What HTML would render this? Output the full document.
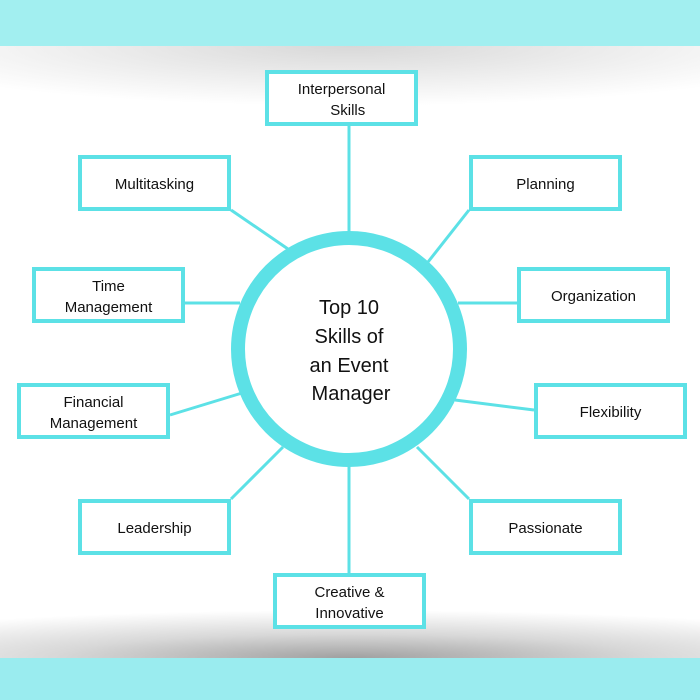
<!DOCTYPE html>
<html><head><style>
body{margin:0;width:700px;height:700px;overflow:hidden;background:#fff;position:relative;font-family:"Liberation Sans",sans-serif}
.band{position:absolute;left:0;width:700px}
.b{position:absolute;box-sizing:border-box;border:4px solid #5ce1e6;background:#fff;width:153px;height:56px;display:flex;align-items:center;justify-content:center;text-align:center;font-size:15px;line-height:21px;color:#111;padding-top:3px}
</style></head><body>
<div class="band" style="top:46px;height:60px;background:radial-gradient(ellipse 70% 100% at 50% 0%,#d8d8d8 0%,rgba(255,255,255,0) 100%);"></div>
<div class="band" style="top:610px;height:48px;background:radial-gradient(ellipse 85% 100% at 50% 100%,#a0a0a0 0%,rgba(190,190,190,0.6) 50%,rgba(255,255,255,0) 100%);"></div>
<div class="band" style="top:0;height:46px;background:#a2eff0"></div>
<div class="band" style="top:658px;height:42px;background:#9aecef"></div>
<svg style="position:absolute;left:0;top:0" width="700" height="700">
<g stroke="#5ce1e6" stroke-width="3">
<line x1="349" y1="126" x2="349" y2="235"/>
<line x1="349" y1="465" x2="349" y2="573"/>
<line x1="231" y1="210" x2="288" y2="249"/>
<line x1="469" y1="210" x2="428" y2="262"/>
<line x1="185" y1="303" x2="240" y2="303"/>
<line x1="517" y1="303" x2="458" y2="303"/>
<line x1="170" y1="415" x2="242" y2="393"/>
<line x1="534" y1="410" x2="455" y2="400"/>
<line x1="231" y1="499" x2="283" y2="447"/>
<line x1="469" y1="499" x2="417" y2="447"/>
</g>
<circle cx="349" cy="349" r="111" fill="#fff" stroke="#5ce1e6" stroke-width="14"/>
<g font-family="Liberation Sans, sans-serif" font-size="20" fill="#111" text-anchor="middle">
<text x="349" y="314">Top 10</text>
<text x="349" y="343">Skills of</text>
<text x="349" y="372">an Event</text>
<text x="351" y="400">Manager</text>
</g>
</svg>
<div class="b" style="left:265px;top:70px">Interpersonal<br>&nbsp;&nbsp;&nbsp;Skills</div>
<div class="b" style="left:78px;top:155px">Multitasking</div>
<div class="b" style="left:469px;top:155px">Planning</div>
<div class="b" style="left:32px;top:267px">Time<br>Management</div>
<div class="b" style="left:517px;top:267px">Organization</div>
<div class="b" style="left:17px;top:383px">Financial<br>Management</div>
<div class="b" style="left:534px;top:383px">Flexibility</div>
<div class="b" style="left:78px;top:499px">Leadership</div>
<div class="b" style="left:469px;top:499px">Passionate</div>
<div class="b" style="left:273px;top:573px">Creative &amp;<br>Innovative</div>
</body></html>
